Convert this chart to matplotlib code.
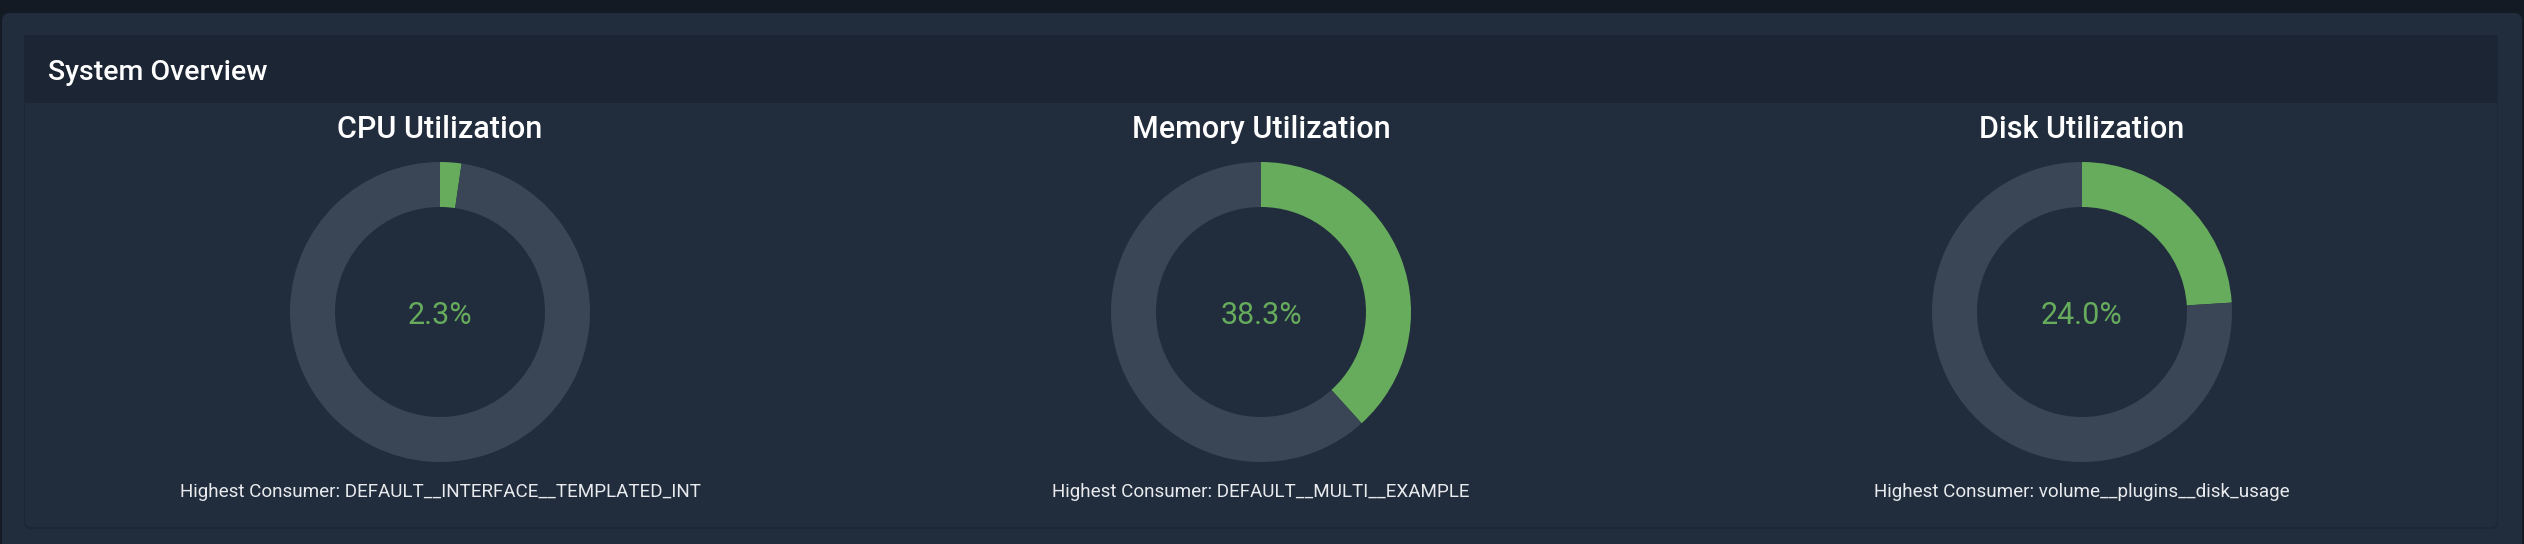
import matplotlib
matplotlib.use("Agg")
import matplotlib.pyplot as plt
from matplotlib.patches import Rectangle, FancyBboxPatch

# ---- data ----
titles = ["CPU Utilization", "Memory Utilization", "Disk Utilization"]
values = [2.3, 38.3, 24.0]
consumers = ["DEFAULT__INTERFACE__TEMPLATED_INT", "DEFAULT__MULTI__EXAMPLE",
             "volume__plugins__disk_usage"]
header_title = "System Overview"

# ---- style ----
W, H = 2524, 544
DPI = 100
BG_TOP = "#141a24"
CARD = "#212d3d"
HEADER = "#1b2533"
RING = "#3a4655"
GREEN = "#66ac5c"
plt.rcParams['font.family'] = ['Roboto', 'DejaVu Sans']

fig = plt.figure(figsize=(W / DPI, H / DPI), dpi=DPI)
fig.patch.set_facecolor(BG_TOP)

bg = fig.add_axes([0, 0, 1, 1])
bg.set_xlim(0, W)
bg.set_ylim(H, 0)
bg.axis("off")

# outer card
bg.add_patch(FancyBboxPatch((2, 13), W - 4, H, boxstyle="round,pad=0,rounding_size=8",
                            facecolor=CARD, edgecolor="none"))
# inner panel with subtle shadow
bg.add_patch(FancyBboxPatch((24, 100), 2474, 429, boxstyle="round,pad=0,rounding_size=6",
                            facecolor="#1c2634", edgecolor="none"))
bg.add_patch(FancyBboxPatch((25, 100), 2472, 427, boxstyle="round,pad=0,rounding_size=6",
                            facecolor=CARD, edgecolor="none"))
# header band
bg.add_patch(Rectangle((24, 35), 2474, 68, facecolor=HEADER, edgecolor="none"))
bg.text(48, 72, header_title, color="white", fontsize=20.5, fontweight="medium",
        va="center", ha="left")

centers_x = [440, 1261, 2082]
center_y = 312
R = 150

for cx, title, val, cons in zip(centers_x, titles, values, consumers):
    ax = fig.add_axes([(cx - R) / W, (H - center_y - R) / H, 2 * R / W, 2 * R / H])
    ax.pie([val, 100 - val], colors=[GREEN, RING], startangle=90, counterclock=False,
           radius=1.0, wedgeprops=dict(width=0.3, linewidth=0))
    ax.set_xlim(-1, 1)
    ax.set_ylim(-1, 1)
    ax.set_aspect("auto")
    ax.axis("off")
    bg.text(cx, 315, f"{val:.1f}%", color=GREEN, fontsize=22, ha="center", va="center")
    bg.text(cx, 129, title, color="white", fontsize=22, fontweight="medium",
            ha="center", va="center")
    bg.text(cx, 492, f"Highest Consumer: {cons}", color="#e8eaed", fontsize=13.6,
            ha="center", va="center")

fig.savefig("out.png", dpi=DPI, facecolor=fig.get_facecolor())
